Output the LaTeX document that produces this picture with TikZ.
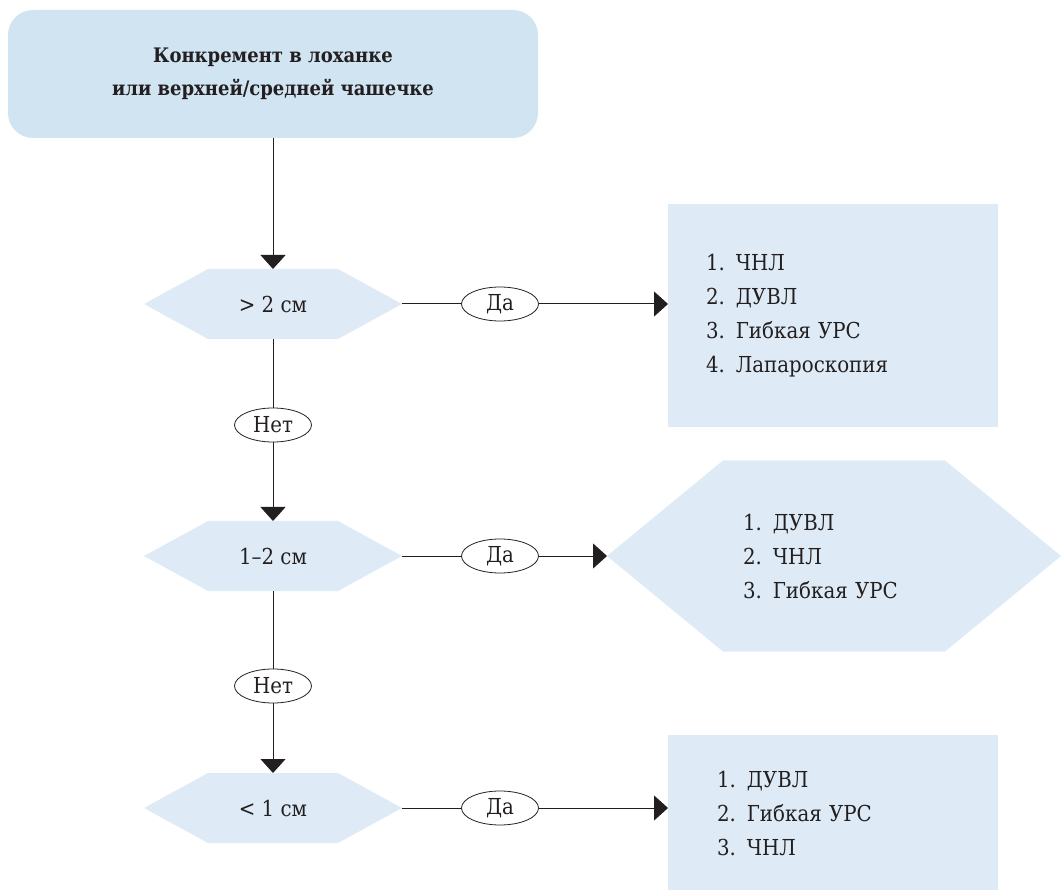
\documentclass[tikz,border=0pt]{standalone}
\usepackage{fontspec}
\setmainfont{DejaVu Serif Condensed}
\usetikzlibrary{arrows.meta,shapes.geometric}
\definecolor{topcol}{RGB}{208,228,242}
\definecolor{hexcol}{RGB}{222,235,246}
\definecolor{ink}{RGB}{35,31,32}
\begin{document}
\begin{tikzpicture}[x=1pt,y=-1pt,
  every node/.style={outer sep=0pt, text=ink},
  txt/.style={font=\fontsize{22}{34}\selectfont},
  arr/.style={-{Triangle[width=25pt,length=14pt]}},
  conn/.style={line width=1pt, draw=ink},
  ans/.style={ellipse, draw=ink, line width=0.8pt, fill=white, minimum width=77pt, minimum height=34pt, inner sep=0pt, font=\fontsize{22}{26}\selectfont},
  topbox/.style={rounded corners=25pt, fill=topcol, minimum width=530pt, minimum height=128pt, align=center, inner sep=0pt, font=\bfseries\fontsize{20}{33}\selectfont},
  rbox/.style={fill=hexcol, inner sep=0pt, align=left, txt},
  hexa/.style={inner sep=0pt, txt, path picture={\fill[hexcol] (path picture bounding box.west) -- ([xshift=#1]path picture bounding box.north west) -- ([xshift=-#1]path picture bounding box.north east) -- (path picture bounding box.east) -- ([xshift=-#1]path picture bounding box.south east) -- ([xshift=#1]path picture bounding box.south west) -- cycle;}},
]
\useasboundingbox (0,0) rectangle (1061,890);

\node[topbox] (top) at (273,74) {Конкремент в лоханке\\или верхней/средней чашечке};

\node[hexa=64pt, minimum width=258pt, minimum height=70pt] (h1) at (273,304) {> 2 см};
\node[ans] (n1) at (273,425) {Нет};
\node[hexa=64pt, minimum width=258pt, minimum height=70pt] (h2) at (273,556) {1–2 см};
\node[ans] (n2) at (273,686) {Нет};
\node[hexa=64pt, minimum width=258pt, minimum height=70pt] (h3) at (273,808) {< 1 см};

\node[ans] (d1) at (500,304) {Да};
\node[ans] (d2) at (500,556) {Да};
\node[ans] (d3) at (500,808) {Да};

\node[rbox, minimum width=330pt, minimum height=223pt, text width=254pt] (b1) at (833,315.5) {1. ЧНЛ\\2. ДУВЛ\\3. Гибкая УРС\\4. Лапароскопия};
\node[hexa=116pt, minimum width=454pt, minimum height=191pt, text width=182pt, align=left] (b2) at (834,556) {1. ДУВЛ\\2. ЧНЛ\\3. Гибкая УРС};
\node[rbox, minimum width=330pt, minimum height=156pt, text width=232pt] (b3) at (833,813) {1. ДУВЛ\\2. Гибкая УРС\\3. ЧНЛ};

\draw[conn,arr] (top) -- (h1);
\draw[conn] (h1) -- (n1);
\draw[conn,arr] (n1) -- (h2);
\draw[conn] (h2) -- (n2);
\draw[conn,arr] (n2) -- (h3);

\draw[conn] (h1) -- (d1);
\draw[conn,arr] (d1) -- (d1 -| b1.west);
\draw[conn] (h2) -- (d2);
\draw[conn,arr] (d2) -- (d2 -| b2.west);
\draw[conn] (h3) -- (d3);
\draw[conn,arr] (d3) -- (d3 -| b3.west);
\end{tikzpicture}
\end{document}
